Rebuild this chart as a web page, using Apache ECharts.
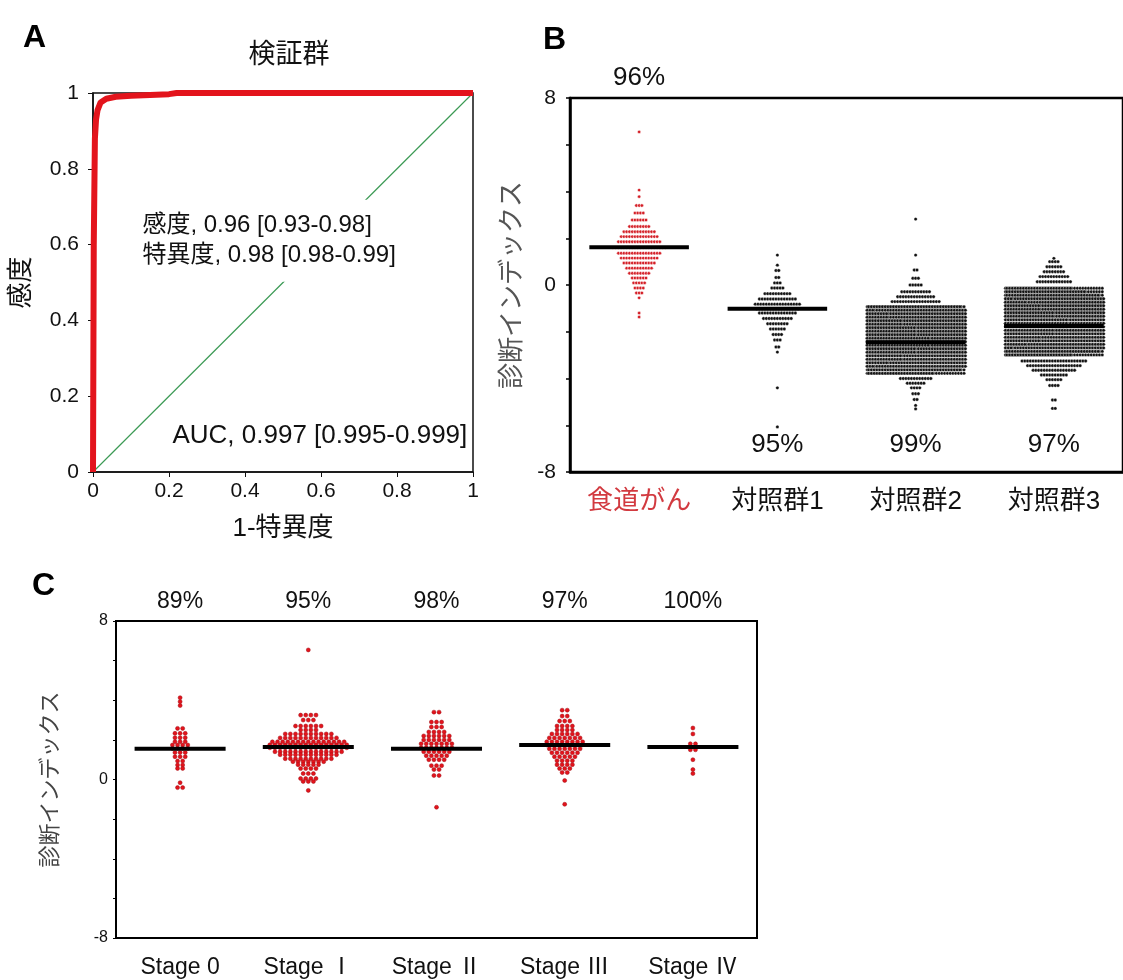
<!DOCTYPE html>
<html>
<head>
<meta charset="utf-8">
<script src="https://cdn.jsdelivr.net/npm/echarts@6/dist/echarts.min.js"></script>
<style>
html, body { margin: 0; background: #fff; }
#chart { width: 1123px; height: 980px; }
</style>
</head>
<body>
<div id="chart"></div>
<script>
const FONT = '"Liberation Sans", Arial, "Noto Sans CJK JP", sans-serif'
const NARROW = '"Liberation Sans Narrow", "Liberation Sans", "Noto Sans CJK JP", sans-serif'
const RED = '#e3141c'

// A: ROC curve, validation set
const rocFpr = [0, 0.002, 0.005, 0.008, 0.012, 0.02, 0.035, 0.06, 0.1, 0.2, 0.22, 1]
const rocTpr = [0, 0.6, 0.88, 0.93, 0.955, 0.975, 0.985, 0.99, 0.993, 0.997, 1, 1]
const chanceX = [0, 1]
const chanceY = [0, 1]
const rocStats = ['感度, 0.96 [0.93-0.98]', '特異度, 0.98 [0.98-0.99]']
const rocAuc = 'AUC, 0.997 [0.995-0.999]'

// B: diagnostic index by group, rows are [value, count]
const groupsB = ['食道がん', '対照群1', '対照群2', '対照群3']
const pctB = ['96%', '95%', '99%', '97%']
const medianB = [1.62, -1.02, -2.45, -1.75]
const rowsCancer = [[6.55, 1], [4.06, 1], [3.78, 1], [3.4, 3], [3.08, 4], [2.78, 6], [2.5, 8], [2.28, 12],
  [2.07, 14], [1.85, 16], [1.6, 20], [1.36, 16], [1.15, 14], [0.94, 12], [0.72, 10], [0.5, 8], [0.3, 6],
  [0.09, 5], [-0.13, 4], [-0.34, 3], [-0.55, 1], [-1.2, 1], [-1.37, 1]]
const rowsCtrl1 = [[1.28, 1], [0.85, 1], [0.62, 2], [0.32, 2], [0.09, 3], [-0.13, 5], [-0.37, 10], [-0.6, 14],
  [-0.82, 17], [-1.02, 16], [-1.2, 14], [-1.43, 11], [-1.66, 8], [-1.88, 6], [-2.12, 4], [-2.35, 3],
  [-2.65, 2], [-2.87, 1], [-4.4, 1], [-6.07, 1]]
const rowsCtrl2 = [[2.82, 1], [1.28, 1], [0.64, 2], [0.29, 3], [0.0, 5], [-0.29, 11], [-0.5, 14], [-0.71, 18],
  [-0.93, 70], [-1.08, 75], [-1.23, 80], [-1.38, 80], [-1.53, 85], [-1.68, 85], [-1.83, 90], [-1.98, 90],
  [-2.13, 90], [-2.28, 95], [-2.43, 95], [-2.58, 95], [-2.73, 90], [-2.88, 90], [-3.03, 85], [-3.18, 85],
  [-3.33, 80], [-3.48, 75], [-3.63, 70], [-3.78, 60], [-4.0, 12], [-4.2, 7], [-4.4, 4], [-4.65, 3],
  [-4.9, 2], [-5.15, 1], [-5.3, 1]]
const rowsCtrl3 = [[1.14, 1], [1.0, 4], [0.78, 6], [0.57, 8], [0.36, 11], [0.14, 13],
  [-0.14, 60], [-0.29, 65], [-0.44, 70], [-0.59, 75], [-0.74, 80], [-0.89, 85], [-1.04, 85], [-1.19, 90],
  [-1.34, 90], [-1.49, 95], [-1.64, 95], [-1.79, 95], [-1.94, 90], [-2.09, 90], [-2.24, 85], [-2.39, 85],
  [-2.54, 80], [-2.69, 75], [-2.84, 70], [-2.99, 60], [-3.25, 24], [-3.45, 20], [-3.65, 16], [-3.85, 10],
  [-4.05, 6], [-4.3, 4], [-4.92, 2], [-5.28, 2]]

// C: cancer cases by stage
const stagesC = ['Stage 0', 'Stage Ⅰ', 'Stage Ⅱ', 'Stage Ⅲ', 'Stage Ⅳ']
const pctC = ['89%', '95%', '98%', '97%', '100%']
const medianC = [1.55, 1.64, 1.55, 1.74, 1.64]
const rowsStage0 = [[4.13, 1], [3.93, 1], [3.73, 1], [2.58, 2], [2.33, 3], [2.11, 3], [1.91, 3], [1.74, 4],
  [1.57, 4], [1.36, 3], [1.15, 3], [0.93, 2], [0.73, 2], [0.56, 2], [-0.16, 1], [-0.41, 2]]
const rowsStage1 = [[6.54, 1], [3.25, 4], [3.0, 3], [2.7, 6], [2.5, 4], [2.3, 10], [2.1, 12], [1.9, 15],
  [1.75, 16], [1.6, 16], [1.4, 14], [1.25, 12], [1.05, 10], [0.9, 7], [0.75, 5], [0.55, 4], [0.3, 3],
  [0.05, 4], [-0.1, 3], [-0.55, 1]]
const rowsStage2 = [[3.4, 2], [2.9, 3], [2.65, 3], [2.4, 4], [2.2, 6], [2.0, 6], [1.8, 7], [1.6, 7], [1.4, 6],
  [1.2, 5], [1.0, 4], [0.7, 3], [0.5, 2], [0.2, 2], [-1.4, 1]]
const rowsStage3 = [[3.5, 2], [3.2, 2], [2.95, 3], [2.7, 4], [2.5, 4], [2.3, 6], [2.1, 7], [1.9, 8], [1.75, 8],
  [1.55, 7], [1.35, 6], [1.15, 5], [0.95, 4], [0.75, 4], [0.55, 3], [0.35, 2], [-0.05, 1], [-1.25, 1]]
const rowsStage4 = [[2.6, 1], [2.3, 1], [1.8, 2], [1.5, 2], [1.0, 1], [0.5, 1], [0.3, 1]]

// lay out one beeswarm column around category index idx
function swarm(rows, idx, dx, maxCols) {
  const pts = []
  rows.forEach(([v, n]) => {
    const k = Math.min(n, maxCols)
    for (let i = 0; i < n; i++) {
      const col = i % maxCols
      const pass = Math.floor(i / maxCols)
      const shift = pass % 2 ? dx / 2 : 0
      pts.push([idx + (col - (k - 1) / 2) * dx + shift, v])
    }
  })
  return pts
}

function medianSeries(meds, xi, yi, half, width) {
  return {
    type: 'custom', xAxisIndex: xi, yAxisIndex: yi, z: 6, silent: true,
    renderItem: (params, api) => {
      const p1 = api.coord([api.value(0) - half, api.value(1)])
      const p2 = api.coord([api.value(0) + half, api.value(1)])
      return { type: 'line', shape: { x1: p1[0], y1: p1[1], x2: p2[0], y2: p2[1] },
        style: { stroke: '#000', lineWidth: width } }
    },
    data: meds.map((m, i) => [i, m])
  }
}

const dotB = { type: 'scatter', xAxisIndex: 2, yAxisIndex: 1, symbolSize: 3.4, silent: true }
const blackDot = { color: '#111', borderColor: '#fff', borderWidth: 0.35, opacity: 1 }
const dotC = { type: 'scatter', xAxisIndex: 4, yAxisIndex: 2, symbolSize: 4, silent: true,
  itemStyle: { color: RED, borderColor: '#a00d14', borderWidth: 0.5, opacity: 1 } }
const textOnly = { type: 'scatter', symbolSize: 0, silent: true, itemStyle: { opacity: 1 } }
const noZero = { onZero: false }

const option = {
  animation: false,
  textStyle: { fontFamily: FONT, color: '#111' },
  title: [
    { text: 'A', left: 18, top: 17, textStyle: { fontSize: 32, fontWeight: 'bold', fontFamily: FONT, color: '#000' } },
    { text: 'B', left: 538, top: 19, textStyle: { fontSize: 32, fontWeight: 'bold', fontFamily: FONT, color: '#000' } },
    { text: 'C', left: 27, top: 565, textStyle: { fontSize: 32, fontWeight: 'bold', fontFamily: FONT, color: '#000' } },
    { text: '検証群', left: 284, top: 37, textAlign: 'center',
      textStyle: { fontSize: 27, fontWeight: 'normal', fontFamily: FONT, color: '#111' } }
  ],
  grid: [
    { left: 93, top: 93, width: 380, height: 379, show: true, borderColor: '#111', borderWidth: 1.5, backgroundColor: 'transparent' },
    { left: 570, top: 98, width: 563, height: 374, show: true, borderColor: '#000', borderWidth: 2.5, backgroundColor: 'transparent' },
    { left: 116, top: 621, width: 641, height: 317, show: true, borderColor: '#000', borderWidth: 2, backgroundColor: 'transparent' }
  ],
  xAxis: [
    { gridIndex: 0, type: 'value', min: 0, max: 1, interval: 0.2,
      name: '1-特異度', nameLocation: 'middle', nameGap: 44,
      nameTextStyle: { fontSize: 26, fontFamily: FONT, color: '#111' },
      axisLine: { onZero: false, lineStyle: { color: '#111', width: 1.5 } },
      axisTick: { length: 5, lineStyle: { color: '#111' } },
      axisLabel: { fontSize: 21, margin: 9, color: '#111', fontFamily: FONT },
      splitLine: { show: false } },
    { gridIndex: 1, type: 'category', data: groupsB,
      axisLine: { onZero: false, lineStyle: { color: '#000', width: 2.5 } },
      axisTick: { show: false },
      axisLabel: { fontSize: 26, margin: 17, fontFamily: FONT, interval: 0, hideOverlap: false,
        color: (v, i) => (i === 0 ? '#d23a40' : '#111') } },
    { gridIndex: 1, type: 'value', min: -0.5, max: 3.5, show: false, axisLine: noZero },
    { gridIndex: 2, type: 'category', data: stagesC,
      axisLine: { onZero: false, lineStyle: { color: '#000', width: 2 } },
      axisTick: { show: false },
      axisLabel: { fontSize: 23, margin: 18, fontFamily: NARROW, color: '#111', interval: 0 } },
    { gridIndex: 2, type: 'value', min: -0.5, max: 4.5, show: false, axisLine: noZero },
    { gridIndex: 2, type: 'category', position: 'top', data: pctC,
      axisLine: { show: false, onZero: false }, axisTick: { show: false },
      axisLabel: { fontSize: 23, margin: 8, fontFamily: NARROW, color: '#111', interval: 0 } }
  ],
  yAxis: [
    { gridIndex: 0, type: 'value', min: 0, max: 1, interval: 0.2,
      name: '感度', nameLocation: 'middle', nameGap: 58, nameRotate: 90,
      nameTextStyle: { fontSize: 26, fontFamily: FONT, color: '#111' },
      axisLine: { onZero: false, lineStyle: { color: '#111', width: 1.5 } },
      axisTick: { length: 5, lineStyle: { color: '#111' } },
      axisLabel: { fontSize: 21, margin: 14, color: '#111', fontFamily: FONT },
      splitLine: { show: false } },
    { gridIndex: 1, type: 'value', min: -8, max: 8, interval: 2,
      name: '診断インデックス', nameLocation: 'middle', nameGap: 44, nameRotate: 90,
      nameTextStyle: { fontSize: 26, fontFamily: FONT, color: '#555' },
      axisLine: { onZero: false, lineStyle: { color: '#000', width: 2.5 } },
      axisTick: { length: 4, lineStyle: { color: '#000', width: 1.5 } },
      axisLabel: { fontSize: 21, margin: 14, color: '#111', fontFamily: FONT,
        formatter: v => (v % 8 === 0 ? String(v) : '') },
      splitLine: { show: false } },
    { gridIndex: 2, type: 'value', min: -8, max: 8, interval: 2,
      name: '診断インデックス', nameLocation: 'middle', nameGap: 54, nameRotate: 90,
      nameTextStyle: { fontSize: 22, fontFamily: FONT, color: '#444' },
      axisLine: { onZero: false, lineStyle: { color: '#000', width: 2 } },
      axisTick: { length: 3, lineStyle: { color: '#000' } },
      axisLabel: { fontSize: 16, margin: 8, color: '#111', fontFamily: NARROW,
        formatter: v => (v % 8 === 0 ? String(v) : '') },
      splitLine: { show: false } }
  ],
  series: [
    // A
    { type: 'line', xAxisIndex: 0, yAxisIndex: 0, showSymbol: false, silent: true, z: 2,
      lineStyle: { color: '#3c9a55', width: 1.2 },
      data: chanceX.map((x, i) => [x, chanceY[i]]) },
    { type: 'line', xAxisIndex: 0, yAxisIndex: 0, showSymbol: false, silent: true, z: 4,
      lineStyle: { color: RED, width: 6 }, clip: false,
      data: rocFpr.map((x, i) => [x, rocTpr[i]]) },
    Object.assign({}, textOnly, { xAxisIndex: 0, yAxisIndex: 0, z: 3,
      data: [[0.13, 0.61]],
      label: { show: true, position: 'inside', align: 'left', formatter: rocStats.join('\n'),
        fontSize: 24, lineHeight: 30, color: '#111', fontFamily: FONT,
        backgroundColor: '#fff', padding: [10, 6, 12, 0] } }),
    Object.assign({}, textOnly, { xAxisIndex: 0, yAxisIndex: 0, z: 3,
      data: [[0.985, 0.095]],
      label: { show: true, position: 'inside', align: 'right', formatter: rocAuc,
        fontSize: 26, color: '#111', fontFamily: FONT } }),
    // B
    Object.assign({}, dotB, { data: swarm(rowsCancer, 0, 0.02, 36),
      itemStyle: { color: '#d41f27', borderColor: '#fff', borderWidth: 0.5, opacity: 1 } }),
    Object.assign({}, dotB, { data: swarm(rowsCtrl1, 1, 0.02, 36), itemStyle: blackDot }),
    Object.assign({}, dotB, { data: swarm(rowsCtrl2, 2, 0.02, 36), itemStyle: blackDot }),
    Object.assign({}, dotB, { data: swarm(rowsCtrl3, 3, 0.02, 36), itemStyle: blackDot }),
    medianSeries(medianB, 2, 1, 0.36, 4),
    Object.assign({}, textOnly, { xAxisIndex: 2, yAxisIndex: 1, clip: false,
      data: pctB.map((p, i) => [i, i === 0 ? 8.85 : -6.85, p]),
      label: { show: true, position: 'inside', formatter: p => p.data[2],
        fontSize: 26, color: '#111', fontFamily: FONT } }),
    // C
    Object.assign({}, dotC, { data: swarm(rowsStage0, 0, 0.04, 20) }),
    Object.assign({}, dotC, { data: swarm(rowsStage1, 1, 0.04, 20) }),
    Object.assign({}, dotC, { data: swarm(rowsStage2, 2, 0.04, 20) }),
    Object.assign({}, dotC, { data: swarm(rowsStage3, 3, 0.04, 20) }),
    Object.assign({}, dotC, { data: swarm(rowsStage4, 4, 0.04, 20) }),
    medianSeries(medianC, 4, 2, 0.355, 4)
  ]
}

const chart = echarts.init(document.getElementById('chart'))
chart.setOption(option)
</script>
</body>
</html>
